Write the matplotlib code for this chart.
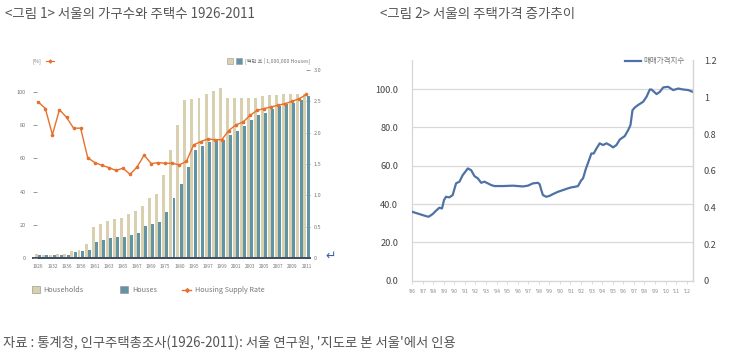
import matplotlib
matplotlib.use('Agg')
import matplotlib.pyplot as plt
from matplotlib.patches import Rectangle
from matplotlib.lines import Line2D

plt.rcParams['font.family'] = ['Noto Sans CJK KR', 'DejaVu Sans']

W, H = 741, 360
fig = plt.figure(figsize=(W / 100, H / 100), dpi=100)


def fx(x):
    return x / W


def fy(y):
    return 1 - y / H


# ---------------- data: figure 1 ----------------
years1 = ['1926', '1930', '1932', '1934', '1936', '1955', '1956', '1960',
          '1961', '1962', '1963', '1964', '1965', '1966', '1967', '1968',
          '1969', '1970', '1975', '1977', '1980', '1990',
          '1995', '1996', '1997', '1998', '1999', '2000', '2001', '2002',
          '2003', '2004', '2005', '2006', '2007', '2008', '2009', '2010', '2011']
households = [0.07, 0.05, 0.05, 0.06, 0.07, 0.11, 0.12, 0.22, 0.49, 0.54,
              0.59, 0.63, 0.64, 0.71, 0.75, 0.83, 0.95, 1.02, 1.32, 1.73,
              2.12, 2.52, 2.54, 2.56, 2.62, 2.67, 2.71, 2.56, 2.56, 2.56,
              2.56, 2.56, 2.59, 2.60, 2.60, 2.62, 2.62, 2.62, 2.62]
houses = [0.05, 0.04, 0.05, 0.05, 0.05, 0.09, 0.11, 0.12, 0.26, 0.29,
          0.32, 0.33, 0.34, 0.36, 0.40, 0.51, 0.54, 0.58, 0.74, 0.96,
          1.18, 1.45, 1.72, 1.78, 1.85, 1.88, 1.88, 1.97, 2.02, 2.10,
          2.20, 2.28, 2.32, 2.38, 2.42, 2.45, 2.48, 2.52, 2.58]
supply_rate = [93.9, 89.9, 74.2, 89.2, 84.6, 78.1, 78.1, 60.4, 57.4, 55.8,
               54.4, 52.7, 54.0, 50.3, 54.8, 61.9, 56.8, 57.4, 57.0, 57.0,
               56.0, 58.2, 68.0, 70.0, 71.6, 71.2, 71.2, 76.7, 80.1, 81.7,
               85.8, 88.8, 89.9, 90.9, 91.9, 92.9, 94.3, 95.9, 98.4]
rate_ticks = [0, 20, 40, 60, 80, 100]
house_ticks = [0, 0.5, 1.0, 1.5, 2.0, 2.5, 3.0]
house_tick_labels = ['0', '0.5', '1.0', '1.5', '2.0', '2.5', '3.0']

# ---------------- data: figure 2 ----------------
price_t = [1986.00, 1986.69, 1987.33, 1987.58, 1987.96, 1988.27, 1988.59,
           1988.84, 1989.03, 1989.22, 1989.54, 1989.85, 1990.17, 1990.49,
           1990.80, 1991.12, 1991.28, 1991.60, 1991.91, 1992.23, 1992.55,
           1992.86, 1993.18, 1993.50, 1993.81, 1994.60, 1995.55, 1996.49,
           1996.97, 1997.44, 1997.92, 1998.08, 1998.24, 1998.39, 1998.71,
           1999.03, 1999.34, 1999.81, 2000.29, 2000.76, 2001.08, 2001.40,
           2001.71, 2002.03, 2002.19, 2002.44, 2002.76, 2002.98, 2003.20,
           2003.46, 2003.77, 2004.08, 2004.41, 2004.72, 2005.03, 2005.35,
           2005.67, 2006.14, 2006.46, 2006.68, 2006.87, 2007.09, 2007.40,
           2007.88, 2008.20, 2008.51, 2008.67, 2009.15, 2009.46, 2009.78,
           2010.25, 2010.72, 2011.20, 2011.67, 2012.15, 2012.57]
price_index = [36.0, 34.8, 33.7, 33.4, 34.8, 36.5, 38.1, 37.7, 42.1, 43.8,
               43.5, 44.7, 50.8, 51.7, 55.1, 57.4, 58.6, 57.7, 54.6, 53.4,
               51.1, 51.7, 50.8, 49.9, 49.4, 49.4, 49.6, 49.2, 49.6, 50.8,
               51.1, 50.4, 47.3, 44.7, 43.8,
               44.3, 45.2, 46.4, 47.3, 48.2, 48.7, 49.0, 49.4, 52.5, 53.4,
               58.1, 63.0, 66.4, 66.4, 69.0, 71.7, 70.8, 71.7, 70.8, 69.6,
               70.8, 73.7, 75.5, 78.6, 81.2, 89.0, 90.4, 91.7, 93.4, 96.0,
               99.8, 99.8, 97.4, 98.6, 100.9, 101.2, 99.5, 100.3, 99.8, 99.5,
               98.6]
price_left_ticks = [0, 20, 40, 60, 80, 100]
price_right_ticks = [0, 0.2, 0.4, 0.6, 0.8, 1.0, 1.2]
price_right_labels = ['0', '0.2', '0.4', '0.6', '0.8', '1', '1.2']
price_years = list(range(1986, 2013))

BEIGE = '#d9d0af'
TEAL = '#6194a4'
ORANGE = '#e6702c'
BLUE = '#4f72a6'
TXT = '#555555'

# ---------------- titles / caption ----------------
fig.text(fx(5), fy(14), '<그림 1> 서울의 가구수와 주택수 1926-2011',
         fontsize=9.7, color=TXT, ha='left', va='center')
fig.text(fx(380), fy(14), '<그림 2> 서울의 주택가격 증가추이',
         fontsize=9.7, color=TXT, ha='left', va='center')
fig.text(fx(3), fy(342.5),
         "자료 : 통계청, 인구주택총조사(1926-2011): 서울 연구원, '지도로 본 서울'에서 인용",
         fontsize=9.6, color=TXT, ha='left', va='center')

# ---------------- figure 1 ----------------
L1, R1, T1, B1 = 33, 310, 70, 258
ax = fig.add_axes([fx(L1), fy(B1), fx(R1 - L1), (B1 - T1) / H])
idx = list(range(len(years1)))
bw = 0.42
ax.bar([i - 0.23 for i in idx], households, width=bw, color=BEIGE, zorder=2)
ax.bar([i + 0.23 for i in idx], houses, width=bw, color=TEAL, zorder=2)
ax.set_xlim(-0.75, len(years1) - 0.5)
ax.set_ylim(0, 3.0)

ax2 = ax.twinx()
ax2.plot(idx, supply_rate, color=ORANGE, lw=1.0, marker='o', markersize=2.6,
         markerfacecolor=ORANGE, markeredgewidth=0, zorder=4)
ax2.set_ylim(0, 113.1)

# bars axis: ticks on the right
ax.yaxis.tick_right()
ax.yaxis.set_label_position('right')
ax.set_yticks(house_ticks)
ax.set_yticklabels(house_tick_labels)
ax.tick_params(axis='y', which='both', left=False, labelleft=False,
               right=True, labelright=True, direction='in', length=3,
               width=0.6, color='#888888', labelsize=4, labelcolor='#777777',
               pad=2.5)
ax.set_xticks(idx[::2])
ax.set_xticklabels(years1[::2])
ax.tick_params(axis='x', length=0, labelsize=3.4, labelcolor='#777777', pad=4)
for s in ['top', 'left', 'right']:
    ax.spines[s].set_visible(False)
ax.spines['bottom'].set_color('#3e4b5b')
ax.spines['bottom'].set_linewidth(1.4)
ax.spines['bottom'].set_zorder(5)

# rate axis: ticks on the left
ax2.yaxis.tick_left()
ax2.yaxis.set_label_position('left')
ax2.set_yticks(rate_ticks)
ax2.set_yticklabels([str(v) for v in rate_ticks])
ax2.tick_params(axis='y', which='both', right=False, labelright=False,
                left=True, labelleft=True, direction='in', length=3,
                width=0.6, color='#888888', labelsize=4, labelcolor='#777777',
                pad=5)
for s in ['top', 'left', 'right', 'bottom']:
    ax2.spines[s].set_visible(False)

# top annotations
fig.text(fx(32), fy(61), '[%]', fontsize=4, color='#777777', ha='left', va='center')
fig.add_artist(Line2D([fx(46), fx(54)], [fy(61), fy(61)], color=ORANGE, lw=0.8))
fig.add_artist(Line2D([fx(50)], [fy(61)], color=ORANGE, marker='D', markersize=2.4,
                      markeredgewidth=0, lw=0))
fig.add_artist(Rectangle((fx(227), fy(64)), 6 / W, 6 / H, transform=fig.transFigure,
                         facecolor=BEIGE, edgecolor='#999999', lw=0.4))
fig.add_artist(Rectangle((fx(236), fy(64)), 6 / W, 6 / H, transform=fig.transFigure,
                         facecolor=TEAL, edgecolor='#999999', lw=0.4))
fig.text(fx(245), fy(61), '[백만 호 | 1,000,000 Houses]', fontsize=3.8,
         color='#777777', ha='left', va='center')

# bottom legend
fig.add_artist(Rectangle((fx(32), fy(293)), 8 / W, 7 / H, transform=fig.transFigure,
                         facecolor=BEIGE, edgecolor='#9a9a9a', lw=0.5))
fig.text(fx(43), fy(289.5), 'Households', fontsize=5.2, color='#777777',
         ha='left', va='center')
fig.add_artist(Rectangle((fx(120), fy(293)), 8 / W, 7 / H, transform=fig.transFigure,
                         facecolor=TEAL, edgecolor='#9a9a9a', lw=0.5))
fig.text(fx(132), fy(289.5), 'Houses', fontsize=5.2, color='#777777',
         ha='left', va='center')
fig.add_artist(Line2D([fx(182), fx(191)], [fy(289.5), fy(289.5)], color=ORANGE, lw=1.0))
fig.add_artist(Line2D([fx(186.5)], [fy(289.5)], color=ORANGE, marker='D',
                      markersize=2.8, markeredgewidth=0, lw=0))
fig.text(fx(195), fy(289.5), 'Housing Supply Rate', fontsize=5.2, color='#777777',
         ha='left', va='center')
fig.text(fx(331), fy(256), '↵', fontsize=9, color='#3d5fa5', ha='center',
         va='center', family='DejaVu Sans')

# ---------------- figure 2 ----------------
L2, R2, T2, B2 = 412, 692.7, 60, 280.7
bx = fig.add_axes([fx(L2), fy(B2), fx(R2 - L2), (B2 - T2) / H])
bx.plot(price_t, price_index, color=BLUE, lw=1.6, solid_joinstyle='round', zorder=3)
bx.set_xlim(1986, 2012.57)
bx.set_ylim(0, 115.2)
bx.set_yticks(price_left_ticks)
bx.set_yticklabels(['%.1f' % v for v in price_left_ticks])
bx.tick_params(axis='y', length=0, labelsize=6.6, labelcolor='#444444', pad=10)
bx.set_xticks(price_years)
bx.set_xticklabels(["'%02d" % (y % 100) for y in price_years])
bx.tick_params(axis='x', length=2, width=0.5, color='#cccccc', labelsize=3.6,
               labelcolor='#888888', pad=4)
bx.yaxis.grid(True, color='#d9d9d9', lw=0.9)
bx.set_axisbelow(True)
bx.spines['top'].set_visible(False)
for s in ['left', 'right', 'bottom']:
    bx.spines[s].set_color('#d6d6d6')
    bx.spines[s].set_linewidth(0.9)

bx2 = bx.twinx()
bx2.set_ylim(0, 1.204)
bx2.set_yticks(price_right_ticks)
bx2.set_yticklabels(price_right_labels)
bx2.tick_params(axis='y', length=0, labelsize=6.6, labelcolor='#444444', pad=8)
for s in ['top', 'left', 'bottom']:
    bx2.spines[s].set_visible(False)
bx2.spines['right'].set_color('#d6d6d6')
bx2.spines['right'].set_linewidth(0.9)

fig.add_artist(Line2D([fx(625), fx(641)], [fy(60.7), fy(60.7)], color=BLUE, lw=1.6))
fig.text(fx(643), fy(60.7), '매매가격지수', fontsize=5.4, color='#777777',
         ha='left', va='center')

fig.savefig('out.png', dpi=100)
